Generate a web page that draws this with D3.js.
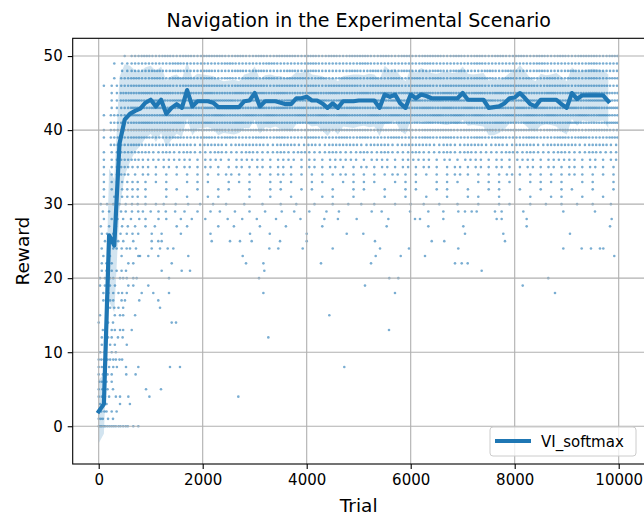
<!DOCTYPE html>
<html>
<head>
<meta charset="utf-8">
<script src="https://cdn.jsdelivr.net/npm/d3@7"></script>
<style>
  body { margin: 0; background: #fff; }
  svg { display: block; }
  text { font-family: "DejaVu Sans", "Liberation Sans", sans-serif; }
</style>
</head>
<body>
<svg id="chart" width="644" height="516"></svg>
<script>
// ---- data -------------------------------------------------------------
const chartTitle = "Navigation in the Experimental Scenario";
const xLabel = "Trial";
const yLabel = "Reward";
const seriesName = "VI_softmax";

const xTicks = [0, 2000, 4000, 6000, 8000, 10000];
const yTicks = [0, 10, 20, 30, 40, 50];

// Mean reward and its spread, sampled every 100 trials (0 .. 9800)
const trialStep = 100;
const meanReward = [
  2.0, 3.0, 25.8, 24.4, 38.2, 41.4, 42.2, 42.6, 42.9, 43.7,
  44.1, 43.2, 44.1, 42.2, 43.0, 43.5, 43.0, 45.4, 43.2, 43.9,
  43.9, 43.9, 43.7, 43.1, 43.1, 43.1, 43.1, 43.1, 43.9, 44.0,
  45.0, 43.2, 43.9, 43.9, 43.9, 43.7, 43.5, 43.5, 44.3, 44.3,
  44.5, 44.0, 44.0, 43.6, 43.0, 43.6, 43.0, 43.9, 43.9, 43.9,
  44.0, 44.0, 44.0, 44.0, 43.0, 44.8, 44.5, 44.8, 43.6, 43.0,
  44.8, 44.3, 44.8, 44.6, 44.3, 44.3, 44.3, 44.3, 44.3, 44.3,
  45.0, 44.1, 44.1, 44.1, 44.1, 43.0, 43.1, 43.2, 43.6, 44.3,
  44.4, 45.0, 44.3, 43.5, 43.2, 44.1, 44.1, 44.1, 44.1, 43.5,
  43.0, 45.0, 44.2, 44.7, 44.7, 44.7, 44.7, 44.7, 43.9
];
const rewardStd = [
  4.3, 4.0, 9.0, 9.0, 9.0, 7.5, 6.5, 5.5, 5.0, 4.8,
  4.6, 4.8, 4.5, 4.5, 4.3, 4.0, 3.9, 3.8, 3.9, 3.7,
  3.6, 3.5, 3.6, 3.8, 3.5, 3.6, 3.7, 3.5, 3.6, 3.7,
  3.6, 3.7, 3.5, 3.6, 3.4, 3.6, 3.5, 3.7, 3.5, 3.4,
  3.6, 3.5, 3.4, 3.7, 3.8, 3.5, 3.6, 3.4, 3.5, 3.6,
  3.5, 3.4, 3.6, 3.5, 3.8, 3.9, 3.6, 3.5, 3.7, 3.6,
  3.5, 3.4, 3.6, 3.5, 3.4, 3.3, 3.5, 3.6, 3.4, 3.5,
  3.6, 3.5, 3.4, 3.5, 3.6, 3.7, 3.8, 3.6, 3.5, 3.4,
  3.5, 3.8, 3.6, 3.5, 3.4, 3.5, 3.3, 3.4, 3.6, 3.7,
  3.6, 3.5, 3.6, 3.4, 3.5, 3.6, 3.5, 3.4, 3.6
];

// Individual trial rewards for the rarer levels: index = reward (0 .. 30), values = trial numbers
const sparseRows = [
  [0, 30, 60, 100, 130, 170, 210, 250, 290, 330, 380, 420, 470, 520, 560, 665, 762],
  [0, 40, 80, 180, 275],
  [0, 50, 110, 150, 250, 345],
  [25, 80, 150, 410, 600],
  [0, 60, 120, 200, 330, 410, 570, 975, 2685],
  [0, 70, 170, 275, 910, 1198],
  [10, 60, 150, 250],
  [0, 80, 170, 250, 530, 710],
  [0, 60, 130, 200, 280, 350, 525, 762, 1371, 1563, 4723],
  [0, 50, 100, 170, 220, 280, 330, 400, 450],
  [30, 110, 250, 330],
  [60, 220, 310, 540],
  [60, 180, 250, 370, 460, 3262],
  [80, 250, 310, 410, 470, 635, 5583],
  [0, 180, 275, 1404, 1487],
  [25, 150, 310, 410, 470, 700, 4435],
  [150, 220, 300, 380, 470, 1179],
  [90, 220, 280, 440, 505, 780, 1146],
  [90, 185, 280, 380, 450, 540, 827, 1050, 1352, 3167, 5698, 8775],
  [25, 120, 217, 313, 570, 665, 954, 5121, 8154],
  [25, 120, 217, 280, 410, 470, 540, 665, 730, 1352, 3083, 5588, 5762, 8646],
  [60, 150, 250, 345, 440, 525, 1211, 1596, 1756, 3185, 7365],
  [60, 150, 250, 570, 665, 1404, 2833, 3167, 4275, 5237, 6852, 6981, 7096],
  [90, 217, 440, 762, 795, 954, 1146, 1723, 2769, 5327, 5808, 6275, 9915],
  [58, 185, 280, 345, 442, 538, 602, 717, 1019, 1179, 1327, 1435, 3281, 3454, 3923, 4500, 5410, 5967, 6915, 8935, 9288, 9467, 9640, 9704],
  [121, 217, 313, 377, 473, 665, 1019, 1146, 1211, 2173, 2525, 2717, 2942, 3487, 4000, 5313, 6404, 6646, 7813],
  [60, 160, 280, 420, 540, 650, 760, 1020, 1210, 1580, 2150, 2910, 3290, 4000, 4770, 5089, 7044, 7781, 9063],
  [40, 200, 330, 450, 560, 700, 900, 1080, 1500, 1700, 2300, 2600, 3100, 3600, 4300, 5538, 6339, 7012, 8230, 9833],
  [100, 250, 360, 470, 620, 780, 900, 1150, 1300, 1580, 1790, 2050, 2480, 2760, 3040, 3410, 3880, 4340, 4600, 4961, 5570, 6083, 6179, 6628, 7653, 7749, 8230, 9865],
  [80, 200, 330, 430, 520, 640, 760, 850, 1000, 1150, 1290, 1470, 1650, 1900, 2150, 2330, 2620, 2900, 3200, 3520, 3760, 4050, 4380, 4620, 5250, 5442, 5987, 6339, 6628, 6916, 7044, 7173, 7269, 7621, 7749, 8166, 8935, 9544],
  [40, 160, 280, 400, 520, 640, 750, 900, 1100, 1250, 1480, 1720, 1950, 2200, 2450, 2800, 3150, 3500, 3800, 4150, 4500, 4800, 5050, 5300, 5700, 6000, 6250, 6550, 6900, 7300, 7700, 7900, 8300, 8600, 8900, 9200, 9500, 9850]
];

// Frequent levels (rewards 31 .. 50): number of trials per 200-trial bin
const denseFirstReward = 31;
const denseBinSize = 200;
const denseRows = [
  "1122101010 1100101010 0110100101 0101011010 0101101010", // 31
  "1222101101 0110101101 1010110101 1011010110 1010110101", // 32
  "1222111011 1011101110 1101111011 1011101111 0111101101", // 33
  "1231211111 1121111211 1112111121 1111211112 1111121111", // 34
  "1232212121 2112121211 2121121212 1211212121 1212121211", // 35
  "1233222221 2212221221 2122212212 2212122121 2212221212", // 36
  "1233323232 2322322323 2232232322 3223232223 2322322322", // 37
  "0334333332 3323332332 3233323323 3323233232 3323332332", // 38
  "1334433433 4343343433 4334343343 3434334343 3433434334", // 39
  "1334444344 4434443443 4434443444 3444344434 4434443443", // 40
  "0334544544 5445445444 5444544544 4544544454 4544454445", // 41
  "1335445454 4544545445 4545445454 4454545445 4545445454", // 42
  "0235454454 5454454545 4454544545 4545454454 5454454545", // 43
  "0245454545 4554545454 4545545454 5454545545 4545454554", // 44
  "0244545454 5445454544 5454454545 4545445454 5445454544", // 45
  "1234444344 4434443443 4344434443 4434444344 4434434443", // 46
  "0134343443 4343434344 3434434343 4343434434 3434343434", // 47
  "0023343433 4334343343 4333434334 3343433434 3343343433", // 48
  "0123333433 3343334333 4333343333 3433334333 3343333433", // 49
  "0013434343 4434343443 4343443434 3443434343 4343434434"  // 50
];

// ---- layout -----------------------------------------------------------
const plot = { left: 72.7, right: 644.7, top: 38.3, bottom: 464 };
const blue = "#1f77b4";

const svg = d3.select("#chart");
const x = d3.scaleLinear().domain([-500, 10500]).range([plot.left, plot.right]);
const y = d3.scaleLinear().domain([-5.1, 52.4]).range([plot.bottom, plot.top]);

// ---- assemble point list ------------------------------------------------
const points = [];
sparseRows.forEach((trials, reward) => trials.forEach(t => points.push({ trial: t, reward })));
denseRows.forEach((row, i) => {
  const reward = denseFirstReward + i;
  row.replace(/\s/g, "").split("").map(Number).forEach((count, bin) => {
    for (let k = 0; k < count; k++) {
      points.push({ trial: bin * denseBinSize + (k + 0.5) * denseBinSize / count, reward });
    }
  });
});

const summary = meanReward.map((m, i) => ({ trial: i * trialStep, mean: m, std: rewardStd[i] }));

svg.append("defs").append("clipPath").attr("id", "plot-clip")
  .append("rect")
  .attr("x", plot.left).attr("y", plot.top)
  .attr("width", plot.right - plot.left).attr("height", plot.bottom - plot.top);

const inner = svg.append("g").attr("clip-path", "url(#plot-clip)");

// scatter of individual trials
inner.append("g")
  .selectAll("circle")
  .data(points)
  .join("circle")
  .attr("cx", d => x(d.trial))
  .attr("cy", d => y(d.reward))
  .attr("r", 1.3)
  .attr("fill", blue)
  .attr("fill-opacity", 0.6);

// mean +/- std band
inner.append("path")
  .datum(summary)
  .attr("fill", blue)
  .attr("fill-opacity", 0.2)
  .attr("d", d3.area()
    .x(d => x(d.trial))
    .y0(d => y(d.mean - d.std))
    .y1(d => y(d.mean + d.std)));

// grid
const grid = inner.append("g").attr("stroke", "#b0b0b0").attr("stroke-width", 1.1);
grid.selectAll("line.gx").data(xTicks).join("line").attr("class", "gx")
  .attr("x1", d => x(d)).attr("x2", d => x(d))
  .attr("y1", plot.top).attr("y2", plot.bottom);
grid.selectAll("line.gy").data(yTicks).join("line").attr("class", "gy")
  .attr("y1", d => y(d)).attr("y2", d => y(d))
  .attr("x1", plot.left).attr("x2", plot.right);

// mean line
inner.append("path")
  .datum(summary)
  .attr("fill", "none")
  .attr("stroke", blue)
  .attr("stroke-width", 4.2)
  .attr("stroke-linejoin", "round")
  .attr("stroke-linecap", "square")
  .attr("d", d3.line().x(d => x(d.trial)).y(d => y(d.mean)));

// axes
function styleAxis(g) {
  g.select(".domain").remove();
  g.selectAll(".tick line").attr("stroke", "#000").attr("stroke-width", 1.1);
  g.selectAll(".tick text").attr("fill", "#000").style("font-size", "15px")
    .style("font-family", '"DejaVu Sans", sans-serif');
}
svg.append("g")
  .attr("transform", `translate(0,${plot.bottom})`)
  .call(d3.axisBottom(x).tickValues(xTicks).tickFormat(d3.format("d")).tickSize(5).tickPadding(5))
  .call(styleAxis);
svg.append("g")
  .attr("transform", `translate(${plot.left},0)`)
  .call(d3.axisLeft(y).tickValues(yTicks).tickFormat(d3.format("d")).tickSize(5).tickPadding(5))
  .call(styleAxis);

// spines
svg.append("rect")
  .attr("x", plot.left).attr("y", plot.top)
  .attr("width", plot.right - plot.left).attr("height", plot.bottom - plot.top)
  .attr("fill", "none").attr("stroke", "#000").attr("stroke-width", 1.1);

// titles
svg.append("text")
  .attr("x", (plot.left + plot.right) / 2).attr("y", 27)
  .attr("text-anchor", "middle").style("font-size", "19px")
  .text(chartTitle);
svg.append("text")
  .attr("x", (plot.left + plot.right) / 2).attr("y", 512)
  .attr("text-anchor", "middle").style("font-size", "18.5px")
  .text(xLabel);
svg.append("text")
  .attr("transform", `translate(29,${(plot.top + plot.bottom) / 2}) rotate(-90)`)
  .attr("text-anchor", "middle").style("font-size", "18.5px")
  .text(yLabel);

// legend
const legend = svg.append("g");
legend.append("rect")
  .attr("x", 490).attr("y", 427).attr("width", 146).attr("height", 29).attr("rx", 3)
  .attr("fill", "#fff").attr("fill-opacity", 0.8)
  .attr("stroke", "#cccccc").attr("stroke-width", 1);
legend.append("line")
  .attr("x1", 495).attr("x2", 531).attr("y1", 441).attr("y2", 441)
  .attr("stroke", blue).attr("stroke-width", 4.2);
legend.append("text")
  .attr("x", 541).attr("y", 446.5).style("font-size", "15px")
  .text(seriesName);
</script>
</body>
</html>
